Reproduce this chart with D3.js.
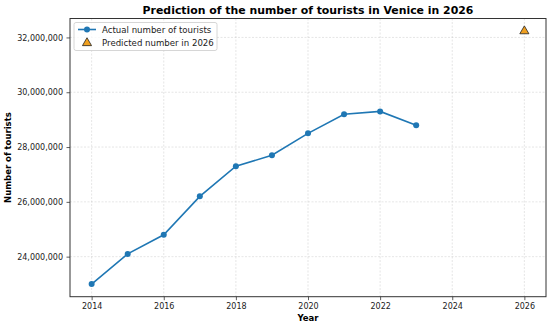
<!DOCTYPE html>
<html><head><meta charset="utf-8">
<script src="https://cdn.jsdelivr.net/npm/d3@7"></script>
<style>body{margin:0;background:#fff}svg{display:block;font-family:"DejaVu Sans",sans-serif}</style>
</head><body><svg id="c" width="550" height="325"></svg>
<script>
const years = [2014, 2015, 2016, 2017, 2018, 2019, 2020, 2021, 2022, 2023];
const tourists = [23000000, 24100000, 24800000, 26200000, 27300000, 27700000, 28500000, 29200000, 29300000, 28800000];
const predYear = [2026];
const predValue = [32230000];
const xTicks = [2014, 2016, 2018, 2020, 2022, 2024, 2026];
const yTicks = [24000000, 26000000, 28000000, 30000000, 32000000];

const svg = d3.select("#c");
const L = 70, R = 546, T = 18.5, B = 296.7;
const allX = years.concat(predYear), allY = tourists.concat(predValue);
const xMin = d3.min(allX), xMax = d3.max(allX), yMin = d3.min(allY), yMax = d3.max(allY);
const xp = (xMax - xMin) * 0.05, yp = (yMax - yMin) * 0.05;
const x = d3.scaleLinear().domain([xMin - xp, xMax + xp]).range([L, R]);
const y = d3.scaleLinear().domain([yMin - yp, yMax + yp]).range([B, T]);

// grid
const g = svg.append("g");
g.selectAll(".gx").data(xTicks).enter().append("line")
  .attr("x1", d => x(d)).attr("x2", d => x(d)).attr("y1", T).attr("y2", B)
  .attr("stroke", "#b0b0b0").attr("stroke-opacity", 0.45).attr("stroke-width", 0.7).attr("stroke-dasharray", "2,1.5");
g.selectAll(".gy").data(yTicks).enter().append("line")
  .attr("y1", d => y(d)).attr("y2", d => y(d)).attr("x1", L).attr("x2", R)
  .attr("stroke", "#b0b0b0").attr("stroke-opacity", 0.45).attr("stroke-width", 0.7).attr("stroke-dasharray", "2,1.5");

// axes
const fmt = d3.format(",");
const xa = svg.append("g").attr("transform", `translate(0,${B})`)
  .call(d3.axisBottom(x).tickValues(xTicks).tickFormat(d3.format("d")).tickSize(3.5).tickPadding(3.5));
const ya = svg.append("g").attr("transform", `translate(${L},0)`)
  .call(d3.axisLeft(y).tickValues(yTicks).tickFormat(fmt).tickSize(3.5).tickPadding(3.5));
[xa, ya].forEach(a => {
  a.select(".domain").remove();
  a.selectAll("text").attr("font-family", "DejaVu Sans").attr("font-size", 8).attr("fill", "#222");
  a.selectAll("line").attr("stroke", "#333").attr("stroke-width", 0.8);
});
svg.append("rect").attr("x", L).attr("y", T).attr("width", R - L).attr("height", B - T)
  .attr("fill", "none").attr("stroke", "#333").attr("stroke-width", 1);

// line
svg.append("path").datum(years.map((d, i) => [d, tourists[i]]))
  .attr("fill", "none").attr("stroke", "#1f77b4").attr("stroke-width", 1.6)
  .attr("d", d3.line().x(d => x(d[0])).y(d => y(d[1])));
svg.selectAll(".pt").data(years).enter().append("circle")
  .attr("cx", d => x(d)).attr("cy", (d, i) => y(tourists[i])).attr("r", 3).attr("fill", "#1f77b4");

// predicted
const tri = d3.symbol().type(d3.symbolTriangle).size(36);
svg.selectAll(".pr").data(predYear).enter().append("path")
  .attr("d", tri).attr("transform", (d, i) => `translate(${x(d)},${y(predValue[i])})`)
  .attr("fill", "#f0a020").attr("stroke", "#222").attr("stroke-width", 0.8);

// title & labels
svg.append("text").attr("x", (L + R) / 2).attr("y", 14).attr("text-anchor", "middle")
  .attr("font-size", 10.9).attr("font-weight", "bold").text("Prediction of the number of tourists in Venice in 2026");
svg.append("text").attr("x", (L + R) / 2).attr("y", 321).attr("text-anchor", "middle")
  .attr("font-size", 8.5).attr("font-weight", "bold").text("Year");
svg.append("text").attr("transform", `translate(11,${(T + B) / 2}) rotate(-90)`).attr("text-anchor", "middle")
  .attr("font-size", 8.5).attr("font-weight", "bold").text("Number of tourists");

// legend
const lg = svg.append("g");
lg.append("rect").attr("x", 74).attr("y", 22.5).attr("width", 143).attr("height", 28).attr("rx", 2)
  .attr("fill", "#fff").attr("fill-opacity", 0.8).attr("stroke", "#ccc").attr("stroke-width", 0.8);
lg.append("line").attr("x1", 78).attr("x2", 96).attr("y1", 29.5).attr("y2", 29.5).attr("stroke", "#1f77b4").attr("stroke-width", 1.6);
lg.append("circle").attr("cx", 87).attr("cy", 29.5).attr("r", 3).attr("fill", "#1f77b4");
lg.append("path").attr("d", tri).attr("transform", "translate(87,43)").attr("fill", "#f0a020").attr("stroke", "#222").attr("stroke-width", 0.8);
lg.append("text").attr("x", 102).attr("y", 32.5).attr("font-size", 8.6).attr("fill", "#222").text("Actual number of tourists");
lg.append("text").attr("x", 102).attr("y", 46).attr("font-size", 8.6).attr("fill", "#222").text("Predicted number in 2026");
</script></body></html>
